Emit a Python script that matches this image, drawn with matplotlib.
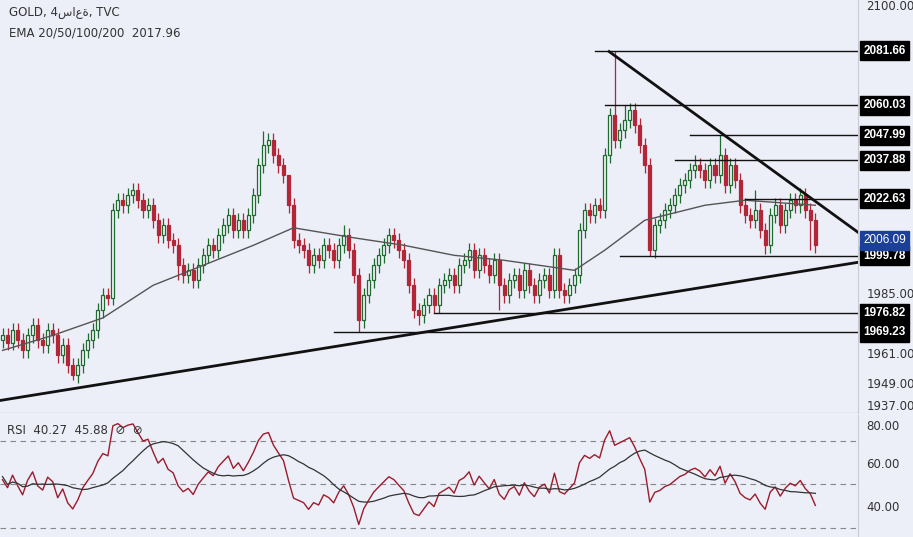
import matplotlib
matplotlib.use("Agg")
import matplotlib.pyplot as plt
import matplotlib.transforms as mtransforms
import numpy as np
import pandas as pd

pre_closes = [1966,1970,1964,1968,1972,1966,1962,1968,1964,1970,1966,1962,1968,1964]
closes = [1968,1965,1970,1966,1962,1968,1972,1966,1964,1970,1968,
          1960,1964,1956,1952,1956,
          1962,1966,1970,1978,1984,
          1983,2018,
          2022,2020,2024,2026,2022,2018,2020,2014,2008,2012,
          2006,2004,1996,1992,1994,1990,
          1996,2000,2004,2002,
          2008,2012,2016,2010,2014,
          2010,2016,2024,2036,
          2044,2046,2040,2036,2032,
          2020,2006,
          2004,2002,1996,2000,1998,2004,2002,1998,2004,2008,
          2002,1992,1974,
          1984,1990,1996,2000,2004,2008,2006,2002,1998,
          1988,1978,1976,1980,
          1984,1980,1988,1990,1992,1988,
          1996,1998,2002,1994,2000,1996,1992,1998,1988,1984,
          1990,1992,1986,1994,1988,1984,1990,1992,1986,
          2000,
          1986,1984,1988,
          1992,2010,2018,2016,2020,2018,
          2040,2056,2046,
          2050,2054,2058,2052,2044,2036,
          2002,
          2012,2014,2018,2020,2024,2028,2030,2034,2036,2034,
          2030,2036,2032,2040,2028,2036,2030,2020,
          2016,2014,2018,2010,2004,
          2016,2020,2012,2018,2022,2020,2024,2018,
          2014,2004]
first_open = 1966
wick = 3.0
high_marks = {122: 2081.66, 124: 2060.03, 143: 2047.99, 52: 2049.5, 26: 2029, 57: 2030, 71: 1995, 68: 2012, 138: 2040, 150: 2026}
low_marks = {129: 1999.78, 71: 1969.23, 14: 1950, 152: 2000.5, 161: 2002, 83: 1972, 99: 1978, 35: 1990}

ema_idx = [0, 10, 20, 30, 40, 50, 58, 70, 80, 90, 100, 114, 120, 128, 140, 148, 162]
ema_val = [1962, 1968, 1975, 1988, 1996, 2004, 2011, 2007, 2004, 2000, 1998, 1994, 2002, 2014, 2020, 2022, 2020]

levels = [2081.66, 2060.03, 2047.99, 2037.88, 2022.63, 1999.78, 1976.82, 1969.23]
level_start = [118, 120, 137, 134, 148, 123, 86, 66]
up_line = ([-0.5, 170.5], [1942.0, 1997.2])
down_line = ([120.9, 170.5], [2081.4, 2009.2])
current_price = 2006.09
price_ticks = [1937, 1949, 1961, 1985, 2100]
rsi_ticks = [40, 60, 80]

n = len(closes)
opens = [first_open] + closes[:-1]
highs = [max(o, c) + wick for o, c in zip(opens, closes)]
lows = [min(o, c) - wick for o, c in zip(opens, closes)]
for k, v in high_marks.items(): highs[k] = v
for k, v in low_marks.items(): lows[k] = v

bg = "#eceef8"
green = "#1e6b2e"
red = "#b32638"

fig = plt.figure(figsize=(9.13, 5.37), dpi=100, facecolor=bg)
W, H = 913, 537
ax = fig.add_axes([0, 1 - 413 / H, 858 / W, 413 / H], facecolor=bg)
ax2 = fig.add_axes([0, 0, 858 / W, 122 / H], facecolor=bg)
for a in (ax, ax2):
    for s in a.spines.values():
        s.set_visible(False)
    a.spines['right'].set_visible(True)
    a.spines['right'].set_color("#c8cad4")
    a.yaxis.tick_right()
    a.set_xticks([])
    a.tick_params(axis='y', length=0, labelsize=8.5, colors="#333333", pad=6)
ax.axhline(1937, color="#c8cad4", lw=1)

ax.set_xlim(-0.5, 170.5)
ax.set_ylim(1937, 2102)
ax.set_yticks(price_ticks)
ax.set_yticklabels([f"{t:.2f}" for t in price_ticks])
ax.get_yticklabels()[0].set_va('bottom')

bw = 0.6
for i in range(n):
    o, c = opens[i], closes[i]
    col = green if c >= o else red
    ax.vlines(i, lows[i], highs[i], color=col, lw=0.9, zorder=2)
    if c >= o:
        ax.add_patch(plt.Rectangle((i - bw / 2, o), bw, max(c - o, 0.3), facecolor="#f4f5fb", edgecolor=col, lw=0.9, zorder=3))
    else:
        ax.add_patch(plt.Rectangle((i - bw / 2, c), bw, max(o - c, 0.3), facecolor=col, edgecolor=col, lw=0.9, zorder=3))

ax.plot(ema_idx, ema_val, color="#555555", lw=1, zorder=4)
ax.plot(*up_line, color="#111111", lw=2, zorder=5)
ax.plot(*down_line, color="#111111", lw=2, zorder=5)

trans = mtransforms.blended_transform_factory(ax.transAxes, ax.transData)
for lv, st in zip(levels, level_start):
    ax.plot([st, 170.5], [lv, lv], color="#111111", lw=1, zorder=4)
    ax.text(1.006, lv, f"{lv:.2f}", transform=trans, ha='left', va='center', fontsize=8.5, fontweight='bold',
            family='Liberation Sans', color='white',
            bbox=dict(boxstyle='square,pad=0.3', fc='black', ec='black'), clip_on=False, zorder=10)
ax.text(1.006, current_price, f"{current_price:.2f}", transform=trans, ha='left', va='center', fontsize=8.5,
        family='Liberation Sans', color='white',
        bbox=dict(boxstyle='square,pad=0.3', fc='#1c3f9a', ec='#1c3f9a'), clip_on=False, zorder=10)

ax.text(0.01, 0.985, "GOLD, 4ساعة, TVC", transform=ax.transAxes, fontsize=8.5, color="#333333", va='top')
ax.text(0.01, 0.935, "EMA 20/50/100/200  2017.96", transform=ax.transAxes, fontsize=8.5, color="#333333", va='top')

# RSI (with unplotted warm-up history)
s = pd.Series([first_open] + pre_closes + closes, dtype=float)
d = s.diff()
up = d.clip(lower=0).ewm(alpha=1 / 14, adjust=False).mean()
dn = (-d.clip(upper=0)).ewm(alpha=1 / 14, adjust=False).mean()
rsi_all = 100 - 100 / (1 + up / dn)
rsi_ma_all = rsi_all.rolling(14, min_periods=1).mean()
k0 = 1 + len(pre_closes)
rsi = rsi_all.iloc[k0:].reset_index(drop=True)
rsi_ma = rsi_ma_all.iloc[k0:].reset_index(drop=True)
ax2.set_xlim(-0.5, 170.5)
ax2.set_ylim(25.6, 82.3)
ax2.set_yticks(rsi_ticks)
ax2.set_yticklabels([f"{t:.2f}" for t in rsi_ticks])
ax2.get_yticklabels()[2].set_va('top')
for lv in (70, 50, 30):
    ax2.axhline(lv, color="#888888", lw=0.8, ls=(0, (5, 4)))
ax2.plot(range(n), rsi, color="#9b1c2c", lw=1)
ax2.plot(range(n), rsi_ma, color="#333333", lw=0.9)
ax2.text(0.008, 0.93, f"RSI  {rsi.iloc[-1]:.2f}  {rsi_ma.iloc[-1]:.2f}  ⊘  ⊘", transform=ax2.transAxes,
         fontsize=8.5, color="#333333", va='top')

fig.savefig("out.png", dpi=100, facecolor=bg)
